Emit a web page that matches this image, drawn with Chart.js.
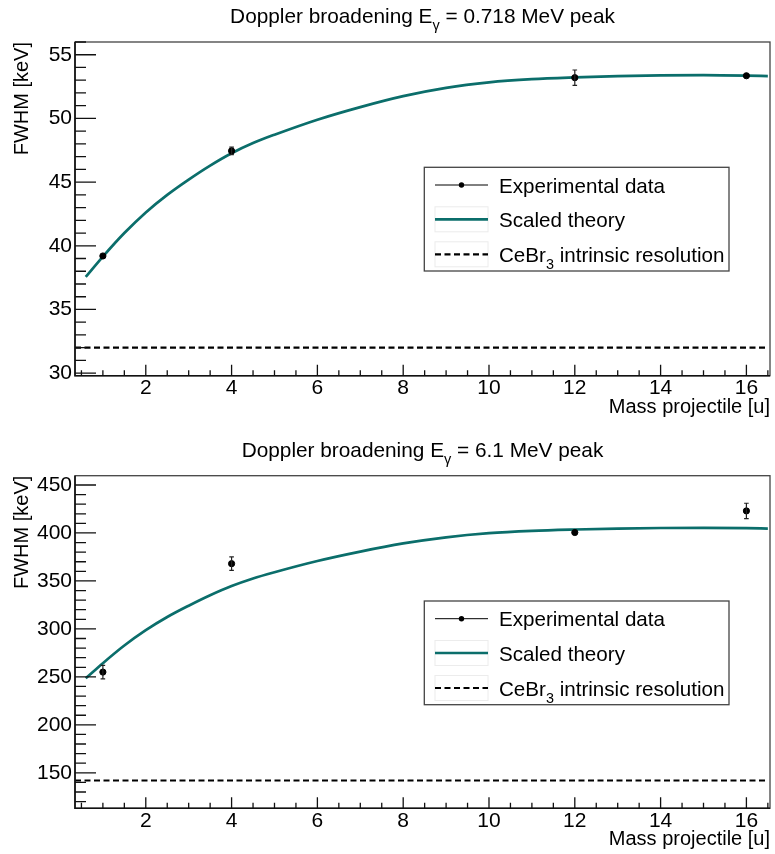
<!DOCTYPE html>
<html>
<head>
<meta charset="utf-8">
<script src="https://cdn.jsdelivr.net/npm/chart.js@4.4.1/dist/chart.umd.min.js"></script>
<style>
  body { margin: 0; background: #fff; }
  .panel { width: 775px; height: 427px; }
</style>
</head>
<body>
<div class="panel"><canvas id="peak718" width="775" height="427"></canvas></div>
<div class="panel"><canvas id="peak6100" width="775" height="427"></canvas></div>
<script>
// --- Measured FWHM vs projectile mass ---
const massPoints = [1, 4, 12, 16];
const fwhm718 = [39.2, 47.45, 53.2, 53.35];
const err718 = [0.15, 0.3, 0.6, 0.1];
const fwhm6100 = [255, 368, 400.5, 423];
const err6100 = [7, 7, 2, 8];

// --- Scaled theory curves ---
const theoryMass = [0.6, 1, 1.5, 2, 2.5, 3, 3.5, 4, 4.5, 5, 6, 7, 8, 9, 10, 11, 12, 13, 14, 15, 16, 16.5];
const theory718 = [37.55, 39.15, 41.0, 42.62, 44.0, 45.2, 46.3, 47.27, 48.07, 48.72, 49.9, 50.89, 51.75, 52.4, 52.83, 53.08, 53.22, 53.32, 53.38, 53.4, 53.36, 53.32];
const theory6100 = [248.5, 264.3, 282.7, 298.7, 312.4, 324.2, 335.1, 344.7, 352.6, 359.1, 370.8, 380.6, 389.1, 395.5, 399.8, 402.2, 403.6, 404.6, 405.2, 405.4, 405.0, 404.6];

// --- CeBr3 intrinsic resolution (keV) ---
const resolutionMass = [0.35, 16.45];
const cebr3Res718 = 32.0;
const cebr3Res6100 = 142;

// --- Axis ranges and labelled ticks ---
const massRange = [0.35, 16.55];
const yRange718 = [29.8, 56.0];
const yRange6100 = [113, 459.7];
const massLabels = [2, 4, 6, 8, 10, 12, 14, 16];
const yLabels718 = [30, 35, 40, 45, 50, 55];
const yLabels6100 = [150, 200, 250, 300, 350, 400, 450];

const FONT = '"Liberation Sans", Arial, Helvetica, sans-serif';
const TEAL = '#0b6e6b';

// split "E_{γ}" style text into normal / subscript parts
function parseSub(s) {
  const parts = [];
  s.split(/_\{([^}]*)\}/).forEach((t, i) => {
    if (t) parts.push([t, i % 2 === 1]);
  });
  return parts;
}

function richWidth(ctx, parts, size) {
  let w = 0;
  parts.forEach(([t, sub]) => {
    ctx.font = (sub ? size * 0.7 : size) + 'px ' + FONT;
    w += ctx.measureText(t).width;
  });
  return w;
}

function drawRich(ctx, parts, x, y, size) {
  ctx.save();
  ctx.textBaseline = 'alphabetic';
  ctx.textAlign = 'left';
  ctx.fillStyle = '#000';
  let cx = x;
  parts.forEach(([t, sub]) => {
    ctx.font = (sub ? size * 0.7 : size) + 'px ' + FONT;
    ctx.fillText(t, cx, sub ? y + size * 0.36 : y);
    cx += ctx.measureText(t).width;
  });
  ctx.restore();
}

const rootStyle = {
  id: 'rootStyle',
  afterDatasetsDraw(chart, args, opts) {
    // vertical error bars on the measured points
    const ctx = chart.ctx;
    const xs = chart.scales.x, ys = chart.scales.y;
    ctx.save();
    ctx.strokeStyle = '#222';
    ctx.lineWidth = 1.2;
    opts.errors.forEach((e, i) => {
      const px = xs.getPixelForValue(massPoints[i]);
      const top = ys.getPixelForValue(opts.values[i] + e);
      const bot = ys.getPixelForValue(opts.values[i] - e);
      if (bot - top < 7) return;
      ctx.beginPath();
      ctx.moveTo(px, top); ctx.lineTo(px, bot);
      ctx.moveTo(px - 2.3, top); ctx.lineTo(px + 2.3, top);
      ctx.moveTo(px - 2.3, bot); ctx.lineTo(px + 2.3, bot);
      ctx.stroke();
    });
    ctx.restore();
  },
  afterDraw(chart, args, opts) {
    const ctx = chart.ctx;
    const a = chart.chartArea;
    const xs = chart.scales.x, ys = chart.scales.y;
    ctx.save();

    // frame
    ctx.strokeStyle = '#444';
    ctx.lineWidth = 1.3;
    ctx.strokeRect(a.left, a.top, a.right - a.left, a.bottom - a.top);
    ctx.strokeStyle = '#111';
    ctx.lineWidth = 1.6;
    ctx.beginPath();
    ctx.moveTo(a.left, a.top); ctx.lineTo(a.left, a.bottom); ctx.lineTo(a.right, a.bottom);
    ctx.stroke();

    // inward tick marks
    ctx.lineWidth = 1.3;
    ctx.beginPath();
    ys.ticks.forEach(t => {
      if (t.value < ys.min || t.value > ys.max) return;
      const py = ys.getPixelForValue(t.value);
      const len = opts.yLabels.includes(t.value) ? 21 : 11;
      ctx.moveTo(a.left, py); ctx.lineTo(a.left + len, py);
    });
    xs.ticks.forEach(t => {
      if (t.value < xs.min || t.value > xs.max) return;
      const px = xs.getPixelForValue(t.value);
      const len = massLabels.includes(t.value) ? 11 : 5.5;
      ctx.moveTo(px, a.bottom); ctx.lineTo(px, a.bottom - len);
    });
    ctx.stroke();

    // title
    const tParts = parseSub(opts.title);
    const tw = richWidth(ctx, tParts, 20.8);
    drawRich(ctx, tParts, (a.left + a.right) / 2 - tw / 2, opts.titleBaseline, 20.8);

    // axis titles
    ctx.fillStyle = '#000';
    ctx.font = '20px ' + FONT;
    ctx.textAlign = 'right';
    ctx.textBaseline = 'alphabetic';
    ctx.fillText('Mass projectile [u]', a.right, a.bottom + 37);
    ctx.save();
    ctx.translate(27.5, a.top);
    ctx.rotate(-Math.PI / 2);
    ctx.fillText('FWHM [keV]', 0, 0);
    ctx.restore();

    // legend
    const lx = 424.3, ly = a.top + 125.3, lw = 304.7, lh = 103.7;
    ctx.fillStyle = '#fff';
    ctx.fillRect(lx, ly, lw, lh);
    ctx.strokeStyle = '#444';
    ctx.lineWidth = 1.3;
    ctx.strokeRect(lx, ly, lw, lh);
    const rows = [17.7, 52, 87];
    const sx0 = 435, sx1 = 488;
    chart.data.datasets.forEach((ds, i) => {
      const cy = ly + rows[i];
      ctx.save();
      if (i > 0) {
        ctx.strokeStyle = '#ececec';
        ctx.lineWidth = 1;
        ctx.strokeRect(sx0, cy - 12.5, sx1 - sx0, 25);
      }
      ctx.strokeStyle = ds.borderColor;
      ctx.lineWidth = i === 0 ? 1 : ds.borderWidth;
      ctx.setLineDash(ds.borderDash || []);
      ctx.beginPath();
      ctx.moveTo(sx0, cy); ctx.lineTo(sx1, cy);
      ctx.stroke();
      if (i === 0) {
        ctx.fillStyle = '#000';
        ctx.beginPath();
        ctx.arc((sx0 + sx1) / 2, cy, 2.7, 0, Math.PI * 2);
        ctx.fill();
      }
      ctx.restore();
      drawRich(ctx, parseSub(ds.label), 499, cy + 7.5, 20.6);
    });

    ctx.restore();
  }
};

function makePanel(id, opts) {
  const ctx = document.getElementById(id).getContext('2d');
  return new Chart(ctx, {
    type: 'scatter',
    data: {
      datasets: [
        {
          label: 'Experimental data',
          data: massPoints.map((m, i) => ({ x: m, y: opts.values[i] })),
          borderColor: '#000',
          backgroundColor: '#000',
          pointRadius: 3.1,
          showLine: false
        },
        {
          label: 'Scaled theory',
          data: theoryMass.map((m, i) => ({ x: m, y: opts.theory[i] })),
          borderColor: TEAL,
          borderWidth: 2.7,
          pointRadius: 0,
          showLine: true,
          cubicInterpolationMode: 'monotone'
        },
        {
          label: 'CeBr_{3} intrinsic resolution',
          data: resolutionMass.map(m => ({ x: m, y: opts.resolution })),
          borderColor: '#000',
          borderWidth: 2.2,
          borderDash: [6, 3.5],
          pointRadius: 0,
          showLine: true
        }
      ]
    },
    options: {
      responsive: false,
      animation: false,
      events: [],
      devicePixelRatio: 1,
      layout: { padding: { top: opts.top, right: 3, left: 0, bottom: 0 } },
      plugins: {
        legend: { display: false },
        tooltip: { enabled: false },
        rootStyle: {
          title: opts.title,
          titleBaseline: opts.titleBaseline,
          yLabels: opts.yLabels,
          values: opts.values,
          errors: opts.errors
        }
      },
      scales: {
        x: {
          type: 'linear',
          min: massRange[0],
          max: massRange[1],
          grid: { display: false, drawTicks: false },
          border: { display: false },
          afterFit: s => { s.height = opts.xHeight; },
          ticks: {
            stepSize: 0.5,
            includeBounds: false,
            autoSkip: false,
            maxRotation: 0,
            padding: 0,
            color: '#000',
            font: { family: FONT, size: 21 },
            callback: v => massLabels.includes(v) ? String(v) : ''
          }
        },
        y: {
          min: opts.yRange[0],
          max: opts.yRange[1],
          grid: { display: false, drawTicks: false },
          border: { display: false },
          afterFit: s => { s.width = 75; },
          ticks: {
            stepSize: opts.yStep,
            includeBounds: false,
            autoSkip: false,
            padding: 3,
            color: '#000',
            font: { family: FONT, size: 21 },
            callback: v => opts.yLabels.includes(v) ? String(v) : ''
          }
        }
      }
    },
    plugins: [rootStyle]
  });
}

makePanel('peak718', {
  title: 'Doppler broadening E_{γ} = 0.718 MeV peak',
  titleBaseline: 23,
  top: 42,
  xHeight: 51.3,
  yRange: yRange718,
  yStep: 1,
  yLabels: yLabels718,
  values: fwhm718,
  errors: err718,
  theory: theory718,
  resolution: cebr3Res718
});

makePanel('peak6100', {
  title: 'Doppler broadening E_{γ} = 6.1 MeV peak',
  titleBaseline: 29.7,
  top: 48.7,
  xHeight: 45.7,
  yRange: yRange6100,
  yStep: 10,
  yLabels: yLabels6100,
  values: fwhm6100,
  errors: err6100,
  theory: theory6100,
  resolution: cebr3Res6100
});
</script>
</body>
</html>
